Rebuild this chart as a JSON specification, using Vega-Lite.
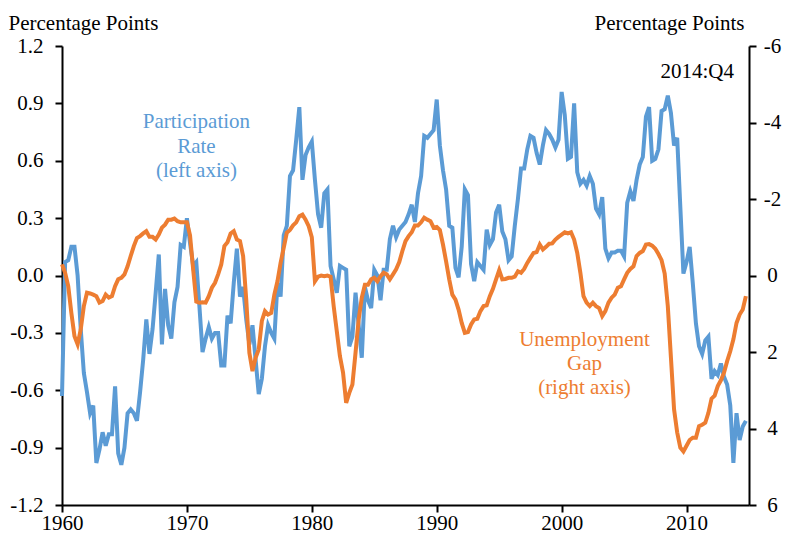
{
  "$schema": "https://vega.github.io/schema/vega-lite/v6.json",
  "width": 687,
  "height": 459,
  "autosize": {"type": "none"},
  "padding": {"left": 62, "top": 46, "right": 38, "bottom": 28},
  "background": "white",
  "config": {
    "view": {"stroke": null},
    "font": "Liberation Serif",
    "axis": {
      "labelFont": "Liberation Serif",
      "labelFontSize": 21,
      "labelColor": "#000",
      "titleFont": "Liberation Serif",
      "titleFontSize": 21,
      "titleFontWeight": "normal",
      "titleColor": "#000",
      "domainColor": "#000",
      "domainWidth": 2,
      "tickColor": "#000",
      "tickWidth": 2,
      "tickSize": 7,
      "grid": false,
      "labelFlush": false,
      "labelOverlap": false
    }
  },
  "data": {"values": [
    {"t":1960,"p":-0.63,"u":-0.29},{"t":1960.25,"p":0.07,"u":-0.07},{"t":1960.5,"p":0.08,"u":0.28},{"t":1960.75,"p":0.15,"u":0.98},
    {"t":1961,"p":0.15,"u":1.59},{"t":1961.25,"p":0.00,"u":1.80},{"t":1961.5,"p":-0.28,"u":1.41},{"t":1961.75,"p":-0.51,"u":0.80},
    {"t":1962,"p":-0.61,"u":0.45},{"t":1962.25,"p":-0.72,"u":0.47},{"t":1962.5,"p":-0.68,"u":0.50},{"t":1962.75,"p":-0.98,"u":0.54},
    {"t":1963,"p":-0.91,"u":0.71},{"t":1963.25,"p":-0.82,"u":0.67},{"t":1963.5,"p":-0.89,"u":0.50},{"t":1963.75,"p":-0.83,"u":0.58},
    {"t":1964,"p":-0.83,"u":0.54},{"t":1964.25,"p":-0.58,"u":0.28},{"t":1964.5,"p":-0.93,"u":0.10},{"t":1964.75,"p":-0.99,"u":0.06},
    {"t":1965,"p":-0.90,"u":-0.03},{"t":1965.25,"p":-0.72,"u":-0.24},{"t":1965.5,"p":-0.70,"u":-0.51},{"t":1965.75,"p":-0.72,"u":-0.77},
    {"t":1966,"p":-0.76,"u":-0.98},{"t":1966.25,"p":-0.61,"u":-1.03},{"t":1966.5,"p":-0.44,"u":-1.10},{"t":1966.75,"p":-0.23,"u":-1.16},
    {"t":1967,"p":-0.41,"u":-1.01},{"t":1967.25,"p":-0.28,"u":-1.01},{"t":1967.5,"p":-0.09,"u":-0.94},{"t":1967.75,"p":0.11,"u":-1.07},
    {"t":1968,"p":-0.36,"u":-1.25},{"t":1968.25,"p":-0.07,"u":-1.33},{"t":1968.5,"p":-0.26,"u":-1.46},{"t":1968.75,"p":-0.33,"u":-1.46},
    {"t":1969,"p":-0.14,"u":-1.49},{"t":1969.25,"p":-0.06,"u":-1.42},{"t":1969.5,"p":0.16,"u":-1.39},{"t":1969.75,"p":0.15,"u":-1.39},
    {"t":1970,"p":0.30,"u":-1.39},{"t":1970.25,"p":0.17,"u":-1.05},{"t":1970.5,"p":0.05,"u":-0.16},{"t":1970.75,"p":0.07,"u":0.68},
    {"t":1971,"p":-0.16,"u":0.71},{"t":1971.25,"p":-0.40,"u":0.70},{"t":1971.5,"p":-0.33,"u":0.71},{"t":1971.75,"p":-0.27,"u":0.54},
    {"t":1972,"p":-0.33,"u":0.32},{"t":1972.25,"p":-0.30,"u":0.19},{"t":1972.5,"p":-0.30,"u":-0.03},{"t":1972.75,"p":-0.47,"u":-0.29},
    {"t":1973,"p":-0.47,"u":-0.77},{"t":1973.25,"p":-0.21,"u":-0.87},{"t":1973.5,"p":-0.25,"u":-1.10},{"t":1973.75,"p":-0.04,"u":-1.16},
    {"t":1974,"p":0.14,"u":-0.94},{"t":1974.25,"p":-0.11,"u":-0.90},{"t":1974.5,"p":-0.06,"u":-0.51},{"t":1974.75,"p":-0.23,"u":0.63},
    {"t":1975,"p":-0.36,"u":2.02},{"t":1975.25,"p":-0.26,"u":2.50},{"t":1975.5,"p":-0.44,"u":2.15},{"t":1975.75,"p":-0.62,"u":1.93},
    {"t":1976,"p":-0.54,"u":1.19},{"t":1976.25,"p":-0.37,"u":0.93},{"t":1976.5,"p":-0.26,"u":1.02},{"t":1976.75,"p":-0.30,"u":0.98},
    {"t":1977,"p":-0.33,"u":0.50},{"t":1977.25,"p":-0.04,"u":0.15},{"t":1977.5,"p":-0.11,"u":-0.33},{"t":1977.75,"p":0.21,"u":-0.72},
    {"t":1978,"p":0.26,"u":-1.12},{"t":1978.25,"p":0.52,"u":-1.19},{"t":1978.5,"p":0.55,"u":-1.31},{"t":1978.75,"p":0.71,"u":-1.39},
    {"t":1979,"p":0.88,"u":-1.55},{"t":1979.25,"p":0.50,"u":-1.59},{"t":1979.5,"p":0.63,"u":-1.46},{"t":1979.75,"p":0.67,"u":-1.29},
    {"t":1980,"p":0.70,"u":-1.00},{"t":1980.25,"p":0.50,"u":0.15},{"t":1980.5,"p":0.32,"u":0.03},{"t":1980.75,"p":0.25,"u":0.00},
    {"t":1981,"p":0.43,"u":0.02},{"t":1981.25,"p":0.45,"u":0.00},{"t":1981.5,"p":0.05,"u":0.03},{"t":1981.75,"p":-0.02,"u":0.80},
    {"t":1982,"p":-0.09,"u":1.46},{"t":1982.25,"p":0.05,"u":2.11},{"t":1982.5,"p":0.04,"u":2.54},{"t":1982.75,"p":0.03,"u":3.33},
    {"t":1983,"p":-0.37,"u":3.07},{"t":1983.25,"p":-0.32,"u":2.85},{"t":1983.5,"p":-0.09,"u":2.02},{"t":1983.75,"p":-0.26,"u":1.15},
    {"t":1984,"p":-0.43,"u":0.58},{"t":1984.25,"p":-0.06,"u":0.24},{"t":1984.5,"p":-0.13,"u":0.24},{"t":1984.75,"p":-0.17,"u":0.10},
    {"t":1985,"p":0.03,"u":0.06},{"t":1985.25,"p":0.00,"u":0.15},{"t":1985.5,"p":-0.13,"u":0.02},{"t":1985.75,"p":0.03,"u":-0.07},
    {"t":1986,"p":0.03,"u":-0.03},{"t":1986.25,"p":0.19,"u":0.10},{"t":1986.5,"p":0.26,"u":-0.03},{"t":1986.75,"p":0.20,"u":-0.16},
    {"t":1987,"p":0.24,"u":-0.35},{"t":1987.25,"p":0.26,"u":-0.64},{"t":1987.5,"p":0.28,"u":-0.90},{"t":1987.75,"p":0.32,"u":-1.03},
    {"t":1988,"p":0.37,"u":-1.13},{"t":1988.25,"p":0.28,"u":-1.31},{"t":1988.5,"p":0.43,"u":-1.31},{"t":1988.75,"p":0.52,"u":-1.39},
    {"t":1989,"p":0.73,"u":-1.51},{"t":1989.25,"p":0.72,"u":-1.46},{"t":1989.5,"p":0.74,"u":-1.42},{"t":1989.75,"p":0.76,"u":-1.25},
    {"t":1990,"p":0.92,"u":-1.27},{"t":1990.25,"p":0.68,"u":-1.19},{"t":1990.5,"p":0.55,"u":-0.81},{"t":1990.75,"p":0.45,"u":-0.37},
    {"t":1991,"p":0.26,"u":0.10},{"t":1991.25,"p":0.25,"u":0.50},{"t":1991.5,"p":0.04,"u":0.63},{"t":1991.75,"p":-0.01,"u":0.89},
    {"t":1992,"p":0.15,"u":1.24},{"t":1992.25,"p":0.45,"u":1.50},{"t":1992.5,"p":0.42,"u":1.48},{"t":1992.75,"p":0.06,"u":1.28},
    {"t":1993,"p":-0.03,"u":1.15},{"t":1993.25,"p":0.07,"u":1.13},{"t":1993.5,"p":0.05,"u":0.93},{"t":1993.75,"p":0.03,"u":0.80},
    {"t":1994,"p":0.24,"u":0.78},{"t":1994.25,"p":0.16,"u":0.54},{"t":1994.5,"p":0.19,"u":0.35},{"t":1994.75,"p":0.33,"u":0.10},
    {"t":1995,"p":0.37,"u":-0.14},{"t":1995.25,"p":0.23,"u":0.10},{"t":1995.5,"p":0.19,"u":0.09},{"t":1995.75,"p":0.08,"u":0.06},
    {"t":1996,"p":0.10,"u":0.06},{"t":1996.25,"p":0.26,"u":0.03},{"t":1996.5,"p":0.40,"u":-0.11},{"t":1996.75,"p":0.56,"u":-0.07},
    {"t":1997,"p":0.56,"u":-0.17},{"t":1997.25,"p":0.66,"u":-0.33},{"t":1997.5,"p":0.73,"u":-0.46},{"t":1997.75,"p":0.72,"u":-0.59},
    {"t":1998,"p":0.64,"u":-0.61},{"t":1998.25,"p":0.58,"u":-0.81},{"t":1998.5,"p":0.68,"u":-0.68},{"t":1998.75,"p":0.76,"u":-0.75},
    {"t":1999,"p":0.74,"u":-0.83},{"t":1999.25,"p":0.71,"u":-0.84},{"t":1999.5,"p":0.67,"u":-0.94},{"t":1999.75,"p":0.71,"u":-1.01},
    {"t":2000,"p":0.96,"u":-1.07},{"t":2000.25,"p":0.84,"u":-1.13},{"t":2000.5,"p":0.61,"u":-1.10},{"t":2000.75,"p":0.62,"u":-1.13},
    {"t":2001,"p":0.90,"u":-0.94},{"t":2001.25,"p":0.54,"u":-0.59},{"t":2001.5,"p":0.48,"u":-0.07},{"t":2001.75,"p":0.50,"u":0.54},
    {"t":2002,"p":0.47,"u":0.71},{"t":2002.25,"p":0.52,"u":0.80},{"t":2002.5,"p":0.48,"u":0.71},{"t":2002.75,"p":0.35,"u":0.80},
    {"t":2003,"p":0.32,"u":0.85},{"t":2003.25,"p":0.41,"u":1.06},{"t":2003.5,"p":0.14,"u":0.93},{"t":2003.75,"p":0.09,"u":0.71},
    {"t":2004,"p":0.12,"u":0.58},{"t":2004.25,"p":0.12,"u":0.50},{"t":2004.5,"p":0.13,"u":0.32},{"t":2004.75,"p":0.13,"u":0.28},
    {"t":2005,"p":0.10,"u":0.10},{"t":2005.25,"p":0.38,"u":-0.07},{"t":2005.5,"p":0.44,"u":-0.17},{"t":2005.75,"p":0.39,"u":-0.24},
    {"t":2006,"p":0.50,"u":-0.51},{"t":2006.25,"p":0.58,"u":-0.59},{"t":2006.5,"p":0.62,"u":-0.64},{"t":2006.75,"p":0.83,"u":-0.81},
    {"t":2007,"p":0.88,"u":-0.82},{"t":2007.25,"p":0.60,"u":-0.78},{"t":2007.5,"p":0.61,"u":-0.70},{"t":2007.75,"p":0.66,"u":-0.56},
    {"t":2008,"p":0.86,"u":-0.40},{"t":2008.25,"p":0.87,"u":-0.05},{"t":2008.5,"p":0.94,"u":0.80},{"t":2008.75,"p":0.85,"u":2.15},
    {"t":2009,"p":0.68,"u":3.50},{"t":2009.25,"p":0.72,"u":4.10},{"t":2009.5,"p":0.36,"u":4.50},{"t":2009.75,"p":0.01,"u":4.60},
    {"t":2010,"p":0.07,"u":4.45},{"t":2010.25,"p":0.15,"u":4.30},{"t":2010.5,"p":-0.04,"u":4.24},{"t":2010.75,"p":-0.25,"u":4.24},
    {"t":2011,"p":-0.37,"u":3.94},{"t":2011.25,"p":-0.41,"u":3.90},{"t":2011.5,"p":-0.34,"u":3.85},{"t":2011.75,"p":-0.32,"u":3.59},
    {"t":2012,"p":-0.54,"u":3.22},{"t":2012.25,"p":-0.50,"u":3.14},{"t":2012.5,"p":-0.52,"u":2.89},{"t":2012.75,"p":-0.46,"u":2.74},
    {"t":2013,"p":-0.53,"u":2.54},{"t":2013.25,"p":-0.57,"u":2.24},{"t":2013.5,"p":-0.68,"u":1.98},{"t":2013.75,"p":-0.98,"u":1.67},
    {"t":2014,"p":-0.72,"u":1.24},{"t":2014.25,"p":-0.86,"u":1.02},{"t":2014.5,"p":-0.79,"u":0.89},{"t":2014.75,"p":-0.76,"u":0.54}
  ]},
  "layer": [
    {
      "mark": {"type": "line", "color": "#5B9BD5", "strokeWidth": 4},
      "encoding": {
        "x": {
          "field": "t", "type": "quantitative",
          "scale": {"domain": [1960, 2015], "nice": false, "zero": false},
          "axis": {"values": [1960, 1970, 1980, 1990, 2000, 2010], "format": "d", "title": null, "labelPadding": 0}
        },
        "y": {
          "field": "p", "type": "quantitative",
          "scale": {"domain": [-1.2, 1.2], "nice": false, "zero": false},
          "axis": {
            "orient": "left",
            "values": [-1.2, -0.9, -0.6, -0.3, 0, 0.3, 0.6, 0.9, 1.2],
            "labelExpr": "replace(format(datum.value, '.1f'), '\u2212', '-')",
            "labelPadding": 12,
            "title": "Percentage Points",
            "titleAngle": 0,
            "titleAlign": "left",
            "titleBaseline": "alphabetic",
            "titleX": -54,
            "titleY": -17
          }
        }
      }
    },
    {
      "mark": {"type": "line", "color": "#ED7D31", "strokeWidth": 4},
      "encoding": {
        "x": {"field": "t", "type": "quantitative", "scale": {"domain": [1960, 2015], "nice": false, "zero": false}},
        "y": {
          "field": "u", "type": "quantitative",
          "scale": {"domain": [-6, 6], "nice": false, "zero": false, "reverse": true},
          "axis": {
            "orient": "right",
            "values": [-6, -4, -2, 0, 2, 4, 6],
            "labelExpr": "replace(format(datum.value, 'd'), '\u2212', '-')",
            "labelAlign": "center",
            "labelPadding": 16,
            "title": "Percentage Points",
            "titleAngle": 0,
            "titleAlign": "right",
            "titleBaseline": "alphabetic",
            "titleX": -5,
            "titleY": -17
          }
        }
      }
    },
    {
      "data": {"values": [{"label": "Participation Rate (left axis)"}]},
      "mark": {"type": "text", "text": ["Participation", "Rate", "(left axis)"], "color": "#5B9BD5", "font": "Liberation Serif", "fontSize": 21, "align": "center", "baseline": "alphabetic", "lineHeight": 24.5},
      "encoding": {
        "x": {"datum": 1970.76, "type": "quantitative"},
        "y": {"datum": 0.769, "type": "quantitative", "scale": {"domain": [-1.2, 1.2], "nice": false, "zero": false}, "axis": null}
      }
    },
    {
      "data": {"values": [{"label": "2014:Q4"}]},
      "mark": {"type": "text", "color": "#000", "font": "Liberation Serif", "fontSize": 21, "align": "right", "baseline": "alphabetic"},
      "encoding": {
        "text": {"field": "label"},
        "x": {"datum": 2013.79, "type": "quantitative"},
        "y": {"datum": 1.034, "type": "quantitative", "scale": {"domain": [-1.2, 1.2], "nice": false, "zero": false}, "axis": null}
      }
    },
    {
      "data": {"values": [{"label": "Unemployment Gap (right axis)"}]},
      "mark": {"type": "text", "text": ["Unemployment", "Gap", "(right axis)"], "color": "#ED7D31", "font": "Liberation Serif", "fontSize": 21, "align": "center", "baseline": "alphabetic", "lineHeight": 24},
      "encoding": {
        "x": {"datum": 2001.83, "type": "quantitative"},
        "y": {"datum": 1.84, "type": "quantitative", "scale": {"domain": [-6, 6], "nice": false, "zero": false, "reverse": true}, "axis": null}
      }
    }
  ],
  "resolve": {"scale": {"y": "independent"}}
}
